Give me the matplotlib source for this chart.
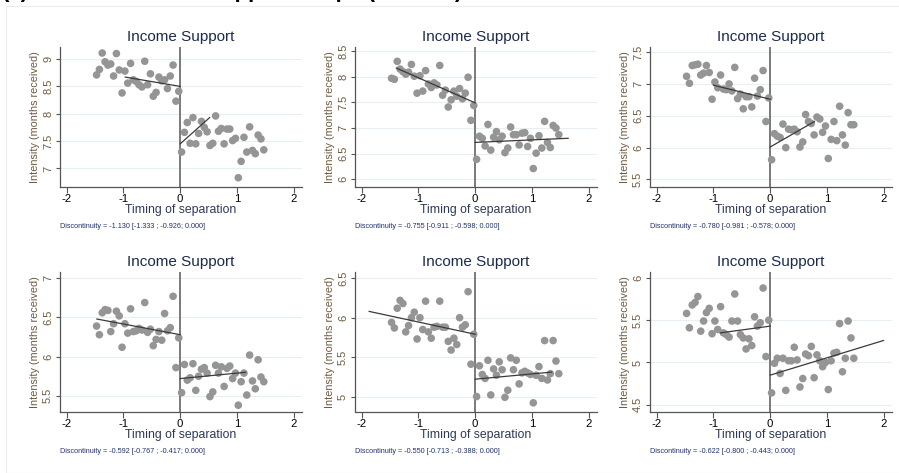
import numpy as np
import matplotlib
matplotlib.use("Agg")
import matplotlib.pyplot as plt
from matplotlib.patches import Rectangle

plt.rcParams['font.family'] = ['Liberation Sans', 'DejaVu Sans']
plt.rcParams['axes.unicode_minus'] = False

# bin centres (timing of separation, years)
x_left = [-1.475, -1.425, -1.375, -1.325, -1.275, -1.225, -1.175, -1.125, -1.075, -1.025,
          -0.975, -0.925, -0.875, -0.825, -0.775, -0.725, -0.675, -0.625, -0.575, -0.525,
          -0.475, -0.425, -0.375, -0.325, -0.275, -0.225, -0.175, -0.125, -0.075, -0.025]
x_right = [0.025, 0.075, 0.125, 0.175, 0.225, 0.275, 0.325, 0.375, 0.425, 0.475,
           0.525, 0.575, 0.625, 0.675, 0.725, 0.775, 0.825, 0.875, 0.925, 0.975,
           1.025, 1.075, 1.125, 1.175, 1.225, 1.275, 1.325, 1.375, 1.425, 1.475]

# panel 1
y1_left = [8.71, 8.81, 9.11, 8.95, 8.89, 8.91, 8.69, 9.10, 8.80, 8.38,
           8.78, 8.56, 8.92, 8.62, 8.59, 8.53, 8.49, 8.96, 8.53, 8.73,
           8.32, 8.39, 8.67, 8.60, 8.62, 8.46, 8.69, 8.89, 8.23, 8.41]
y1_right = [7.30, 7.66, 7.84, 7.46, 7.93, 7.45, 7.64, 7.86, 7.75, 7.67,
            7.42, 7.46, 7.96, 7.68, 7.73, 7.45, 7.72, 7.72, 7.51, 7.55,
            6.83, 7.13, 7.57, 7.30, 7.76, 7.33, 7.27, 7.61, 7.54, 7.34]
# panel 2
y2_left = [7.97, 7.95, 8.30, 8.15, 8.10, 8.05, 8.09, 8.24, 8.01, 7.68,
           8.02, 7.72, 8.12, 7.86, 7.79, 7.88, 7.84, 8.22, 7.64, 7.74,
           7.41, 7.55, 7.72, 7.62, 7.77, 7.57, 7.68, 7.99, 7.15, 7.44]
y2_right = [6.39, 6.84, 6.80, 6.65, 7.07, 6.57, 6.82, 6.93, 6.77, 6.84,
            6.52, 6.61, 7.02, 6.87, 6.87, 6.67, 6.90, 6.91, 6.64, 6.80,
            6.21, 6.51, 6.85, 6.61, 7.13, 6.72, 6.62, 7.05, 7.00, 6.87]
# panel 3
y3_left = [7.12, 7.01, 7.29, 7.30, 7.31, 7.14, 7.17, 7.29, 7.18, 6.76,
           7.03, 6.94, 7.14, 6.92, 6.91, 7.00, 6.89, 7.26, 6.77, 6.84,
           6.61, 6.80, 6.80, 6.64, 7.09, 6.81, 6.91, 7.21, 6.41, 6.78]
y3_right = [5.81, 6.22, 6.18, 6.16, 6.37, 6.00, 6.29, 6.28, 6.29, 6.25,
            6.01, 6.09, 6.52, 6.41, 6.38, 6.20, 6.48, 6.45, 6.24, 6.34,
            5.83, 6.13, 6.41, 6.11, 6.65, 6.20, 6.04, 6.55, 6.36, 6.36]
# panel 4
y4_left = [6.39, 6.28, 6.56, 6.60, 6.59, 6.32, 6.42, 6.58, 6.52, 6.12,
           6.42, 6.30, 6.61, 6.32, 6.33, 6.36, 6.34, 6.69, 6.31, 6.35,
           6.14, 6.22, 6.32, 6.21, 6.55, 6.33, 6.37, 6.77, 5.86, 6.24]
y4_right = [5.54, 5.90, 5.70, 5.73, 5.91, 5.57, 5.75, 5.84, 5.86, 5.79,
            5.49, 5.55, 5.89, 5.79, 5.87, 5.62, 5.85, 5.88, 5.72, 5.79,
            5.38, 5.68, 5.79, 5.51, 6.02, 5.69, 5.59, 5.96, 5.74, 5.68]
# panel 5
y5_left = [5.94, 5.87, 6.12, 6.22, 6.18, 5.82, 5.90, 6.00, 6.07, 5.73,
           6.00, 5.85, 6.21, 5.82, 5.74, 5.88, 5.89, 6.21, 5.88, 5.88,
           5.70, 5.59, 5.74, 5.66, 6.00, 5.88, 5.91, 6.33, 5.41, 5.79]
y5_right = [5.00, 5.39, 5.28, 5.23, 5.46, 5.02, 5.35, 5.27, 5.44, 5.34,
            4.99, 5.08, 5.49, 5.34, 5.46, 5.16, 5.30, 5.32, 5.30, 5.28,
            4.92, 5.27, 5.38, 5.23, 5.71, 5.21, 5.29, 5.71, 5.45, 5.29]
# panel 6
y6_left = [5.58, 5.41, 5.68, 5.71, 5.78, 5.37, 5.49, 5.59, 5.64, 5.34,
           5.49, 5.39, 5.66, 5.35, 5.33, 5.30, 5.49, 5.81, 5.49, 5.33,
           5.29, 5.16, 5.28, 5.20, 5.54, 5.43, 5.47, 5.88, 5.07, 5.50]
y6_right = [4.64, 4.99, 5.05, 4.87, 5.05, 4.67, 5.02, 5.02, 5.18, 5.03,
            4.71, 4.81, 5.10, 5.08, 5.19, 4.82, 5.09, 5.02, 4.95, 5.00,
            4.68, 5.02, 5.11, 5.12, 5.46, 4.89, 5.05, 5.49, 5.29, 5.05]

# local linear fits: (x0, y0, x1, y1) for each side
fit_left = [(-0.97, 8.67, 0, 8.50), (-1.39, 8.17, 0, 7.49), (-1.0, 6.98, 0, 6.76),
            (-1.47, 6.48, 0, 6.28), (-1.87, 6.08, 0, 5.79), (-0.88, 5.35, 0, 5.43)]
fit_right = [(0, 7.45, 0.52, 7.93), (0, 6.72, 1.64, 6.80), (0, 6.01, 0.78, 6.41),
             (0, 5.72, 1.15, 5.80), (0, 5.22, 1.35, 5.31), (0, 4.85, 2.0, 5.26)]

notes = ["Discontinuity = -1.130 [-1.333 ; -0.926; 0.000]",
         "Discontinuity = -0.755 [-0.911 ; -0.598; 0.000]",
         "Discontinuity = -0.780 [-0.981 ; -0.578; 0.000]",
         "Discontinuity = -0.592 [-0.767 ; -0.417; 0.000]",
         "Discontinuity = -0.550 [-0.713 ; -0.388; 0.000]",
         "Discontinuity = -0.622 [-0.800 ; -0.443; 0.000]"]

ylims = [(6.67, 9.22), (5.86, 8.58), (5.39, 7.58), (5.30, 7.08), (4.81, 6.58), (4.42, 6.07)]
yticks = [[7, 7.5, 8, 8.5, 9], [6, 6.5, 7, 7.5, 8, 8.5], [5.5, 6, 6.5, 7, 7.5],
          [5.5, 6, 6.5, 7], [5, 5.5, 6, 6.5], [4.5, 5, 5.5, 6]]
ylefts = [y1_left, y2_left, y3_left, y4_left, y5_left, y6_left]
yrights = [y1_right, y2_right, y3_right, y4_right, y5_right, y6_right]

W, H = 899, 473
fig = plt.figure(figsize=(W / 100, H / 100), dpi=100)
fig.patches.append(Rectangle((6 / W, 0), 1, 1 - 6 / H, transform=fig.transFigure,
                             fill=False, edgecolor='#ececec', lw=0.8))

# panel-group heading, cropped at the top edge as in the source figure
fig.text(2 / W, 1 + 2.5 / H, "(a)", fontsize=16, fontweight='bold', va='baseline')
fig.text(125 / W, 1 + 2.5 / H, "Income support scope (months)", fontsize=16,
         fontweight='bold', va='baseline')

col_left = [60, 355, 650]
row_top = [47, 272]
ax_w, ax_h = 241.5, 139.5

title_c = '#1c2a4c'
ylab_c = '#6e5a40'
xlab_c = '#2b3954'
note_c = '#22316a'

for i in range(6):
    r, c = divmod(i, 3)
    ax = fig.add_axes([col_left[c] / W, (H - row_top[r] - ax_h) / H, ax_w / W, ax_h / H])
    ax.set_xlim(-2.12, 2.14)
    ax.set_ylim(*ylims[i])
    ax.set_yticks(yticks[i])
    ax.set_yticklabels([f"{t:g}" for t in yticks[i]], rotation=90, va='center',
                       color=ylab_c, fontsize=8)
    ax.set_xticks([-2, -1, 0, 1, 2])
    ax.tick_params(axis='x', labelsize=8.2, length=4, width=0.8, color='#555555', pad=1.5)
    ax.tick_params(axis='y', length=3, width=0.8, color='#555555', pad=2)
    ax.grid(axis='y', color='#e6eff1', lw=0.8)
    ax.set_axisbelow(True)
    for s in ['top', 'right']:
        ax.spines[s].set_visible(False)
    for s in ['left', 'bottom']:
        ax.spines[s].set_color('#555555')
        ax.spines[s].set_linewidth(0.9)

    ax.axvline(0, color='#7a7a7a', lw=1.4, zorder=1)
    ax.scatter(x_left, ylefts[i], s=30, color='#959595', edgecolors='none', zorder=2)
    ax.scatter(x_right, yrights[i], s=30, color='#959595', edgecolors='none', zorder=2)
    for f in (fit_left[i], fit_right[i]):
        ax.plot([f[0], f[2]], [f[1], f[3]], color='#3a3a3a', lw=0.9, zorder=3)

    ax.set_title("Income Support", fontsize=11, color=title_c, pad=4)
    ax.set_ylabel("Intensity (months received)", fontsize=7.8, color=ylab_c, labelpad=2)
    ax.set_xlabel("Timing of separation", fontsize=8.8, color=xlab_c, labelpad=0)
    ax.text(0.0, -0.285, notes[i], transform=ax.transAxes, fontsize=5.2,
            color=note_c, ha='left', va='center')

fig.savefig("out.png", dpi=100)
